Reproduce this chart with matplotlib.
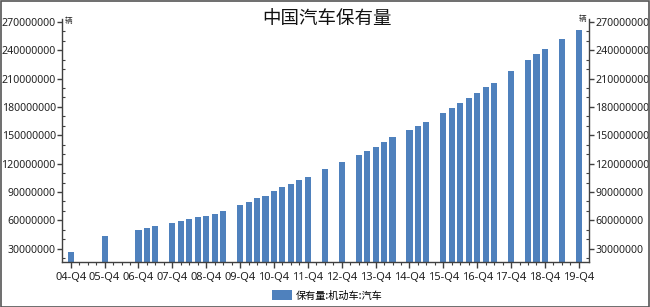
import numpy as np
import matplotlib
matplotlib.use("Agg")
import matplotlib.pyplot as plt
from matplotlib.patches import Rectangle
from matplotlib.ticker import MultipleLocator, FuncFormatter

plt.rcParams['font.family'] = ['Noto Sans', 'Noto Sans CJK SC', 'DejaVu Sans']

# ---- data ----
years = ["04", "05", "06", "07", "08", "09", "10", "11", "12",
         "13", "14", "15", "16", "17", "18", "19"]
all_quarters = ["04-Q4"] + [f"{y}-Q{q}" for y in years[1:] for q in (1, 2, 3, 4)]

bar_quarters = ["04-Q4", "05-Q4", "06-Q4", "07-Q1", "07-Q2", "07-Q4",
                "08-Q1", "08-Q2", "08-Q3", "08-Q4", "09-Q1", "09-Q2",
                "09-Q4", "10-Q1", "10-Q2", "10-Q3", "10-Q4", "11-Q1",
                "11-Q2", "11-Q3", "11-Q4", "12-Q2", "12-Q4", "13-Q2",
                "13-Q3", "13-Q4", "14-Q1", "14-Q2", "14-Q4", "15-Q1",
                "15-Q2", "15-Q4", "16-Q1", "16-Q2", "16-Q3", "16-Q4",
                "17-Q1", "17-Q2", "17-Q4", "18-Q2", "18-Q3", "18-Q4",
                "19-Q2", "19-Q4"]
bar_values = [27.0e6, 43.3e6, 49.8e6, 52.0e6, 54.0e6, 57.3e6,
              59.4e6, 61.1e6, 63.2e6, 65.0e6, 67.1e6, 70.0e6,
              76.3e6, 79.1e6, 83.4e6, 86.2e6, 90.8e6, 94.8e6,
              99.0e6, 102.5e6, 106.0e6, 114.0e6, 121.5e6, 129.4e6,
              133.2e6, 137.9e6, 143.2e6, 148.0e6, 155.2e6, 159.7e6,
              164.0e6, 173.2e6, 179.2e6, 184.5e6, 189.1e6, 195.1e6,
              200.8e6, 205.3e6, 218.0e6, 230.1e6, 236.1e6, 241.4e6,
              251.7e6, 260.9e6]
tick_labels = ["04-Q4", "05-Q4", "06-Q4", "07-Q4", "08-Q4", "09-Q4", "10-Q4",
               "11-Q4", "12-Q4", "13-Q4", "14-Q4", "15-Q4", "16-Q4", "17-Q4",
               "18-Q4", "19-Q4"]
y_ticks = [30e6, 60e6, 90e6, 120e6, 150e6, 180e6, 210e6, 240e6, 270e6]
series_name = "保有量:机动车:汽车"
title = "中国汽车保有量"
unit = "辆"

BAR_COLOR = "#4F81BD"
AX_COLOR = "#404040"

W, H = 650, 307
fig = plt.figure(figsize=(W / 100, H / 100), dpi=100)
fig.patch.set_facecolor("white")

left, right, bottom, top = 62 / W, 589 / W, 1 - 262 / H, 1 - 19 / H
ax = fig.add_axes([left, bottom, right - left, top - bottom])
ax.xaxis.update_units(all_quarters)
bars = ax.bar(bar_quarters, bar_values, width=0.72, color=BAR_COLOR,
              label=series_name, zorder=2)

ax.set_xlim(-1.03, 61.2)
ax.set_ylim(16e6, 273e6)

ax.spines["top"].set_visible(False)
for s in ("left", "right", "bottom"):
    ax.spines[s].set_color(AX_COLOR)
    ax.spines[s].set_linewidth(1.0)

# x ticks
ax.set_xticks(tick_labels)
ax.set_xticklabels(tick_labels, fontsize=8.0, color="#222222")
ax.set_xticks(all_quarters, minor=True)
ax.tick_params(axis="x", which="major", direction="out", length=4, width=1,
               color=AX_COLOR, pad=3.5)
ax.tick_params(axis="x", which="minor", direction="out", length=2.5, width=0.8,
               color=AX_COLOR, labelbottom=False)

# y ticks (left + right)
fmt = FuncFormatter(lambda v, p: f"{int(round(v))}")
ax.set_yticks(y_ticks)
ax.yaxis.set_major_formatter(fmt)
ax.yaxis.set_minor_locator(MultipleLocator(10e6))
ax.tick_params(axis="y", which="major", direction="out", length=3.5, width=1,
               color=AX_COLOR, labelsize=7.6, labelcolor="#222222", pad=1,
               left=True, right=True, labelleft=True, labelright=True)
ax.tick_params(axis="y", which="minor", direction="in", length=2.5, width=0.8,
               color=AX_COLOR, left=True, right=True)

ax.set_facecolor("white")

# units
fig.text(65 / W, 1 - 21 / H, unit, fontsize=5.5, ha="left", va="center",
         family=["Noto Sans CJK SC"], color="#222222")
fig.text(586 / W, 1 - 19 / H, unit, fontsize=5.5, ha="right", va="center",
         family=["Noto Sans CJK SC"], color="#222222")

# title
fig.text(327 / W, 1 - 19 / H, title, fontsize=13.3, ha="center", va="center",
         family=["Noto Sans CJK SC"], color="#111111")

# legend
leg = fig.legend(handles=[bars], labels=[series_name], loc="center",
                 bbox_to_anchor=(327.5 / W, 1 - 295.5 / H), frameon=False,
                 prop={"family": ["Noto Sans CJK SC"], "size": 7.3},
                 handlelength=1.95, handleheight=1.15, handletextpad=0.4,
                 borderpad=0, borderaxespad=0)

# figure border
fig.patches.append(Rectangle((0.5 / W, 0.5 / H), 1 - 1.5 / W, 1 - 1.5 / H,
                             transform=fig.transFigure, fill=False,
                             edgecolor="#555555", linewidth=1.2))

fig.savefig("out.png", dpi=100, facecolor="white")
